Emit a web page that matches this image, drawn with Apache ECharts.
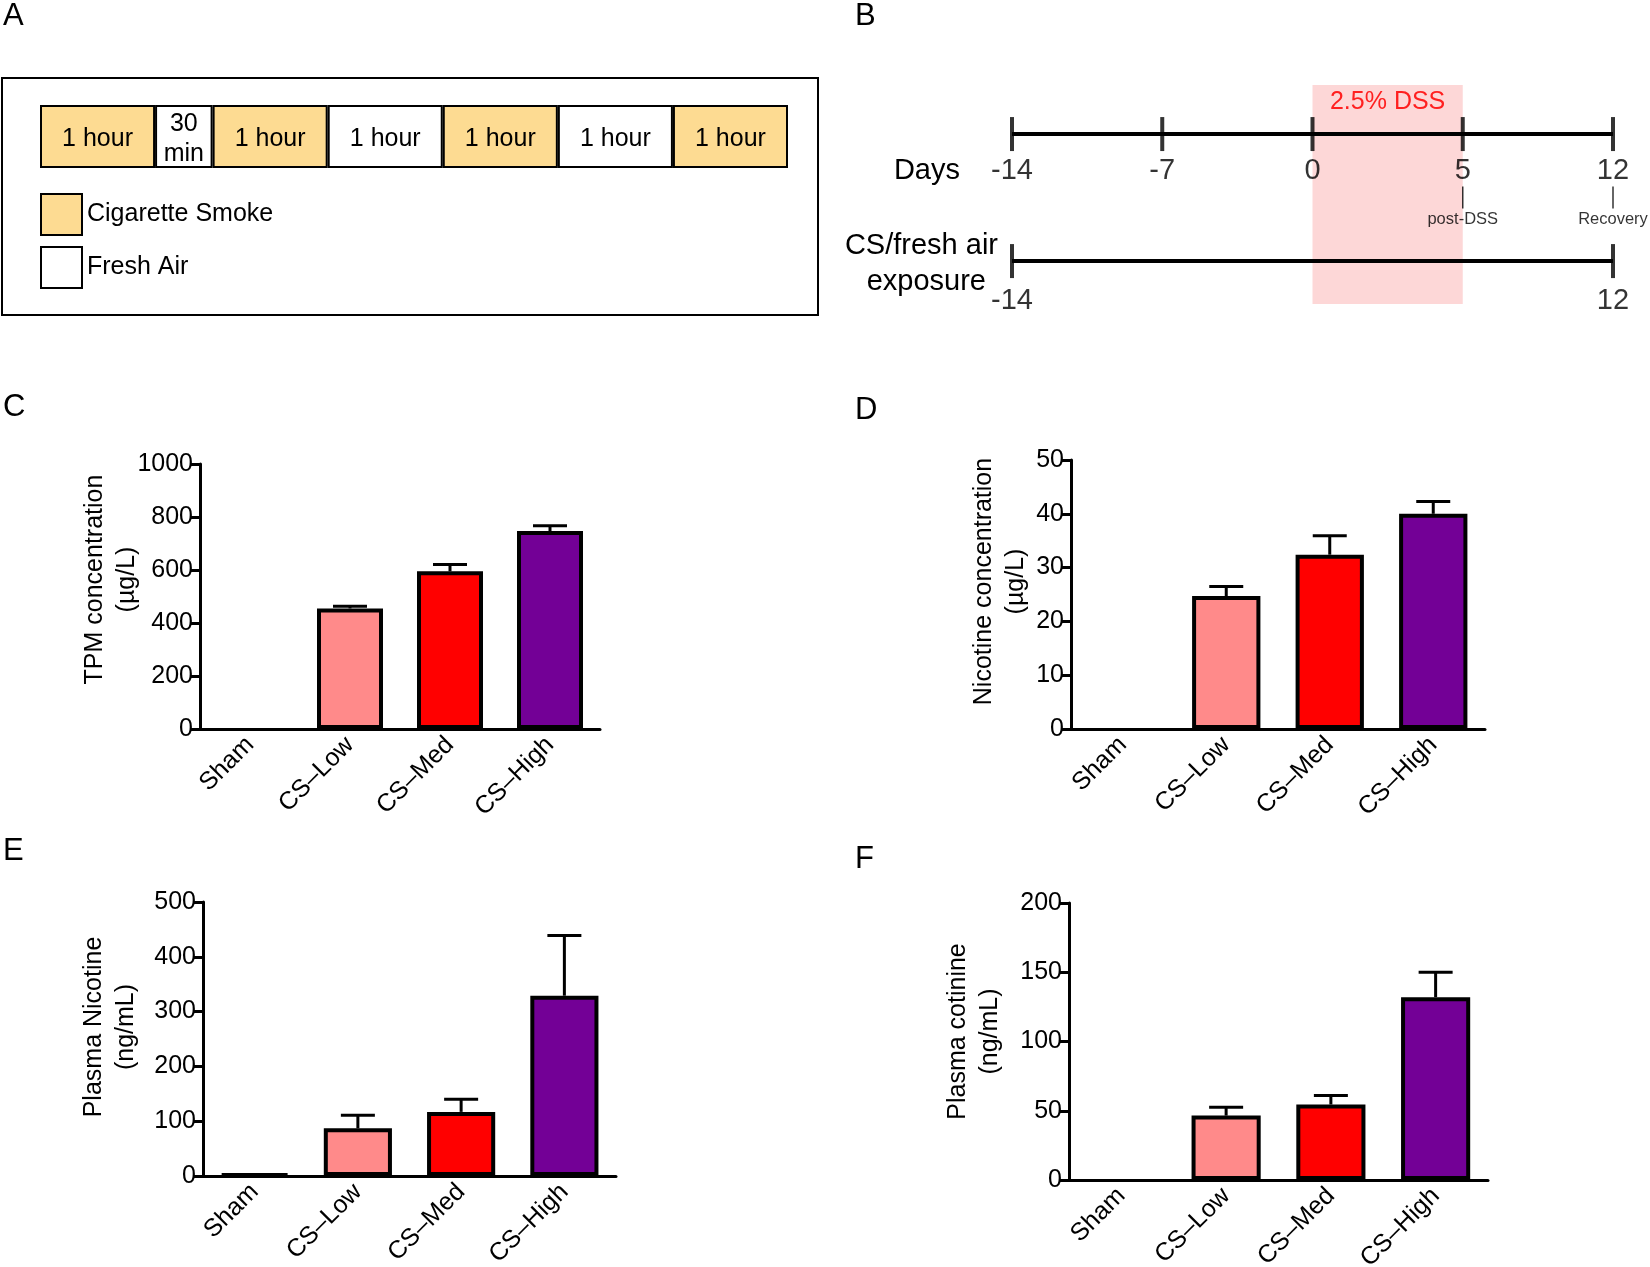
<!DOCTYPE html>
<html style="height: 100%">
<head>
  <meta charset="utf-8">
  <title>CS exposure protocol and dosimetry</title>
  <script src="https://cdn.jsdelivr.net/npm/echarts@6.0.0/dist/echarts.min.js"></script>
</head>
<body style="margin:0;height:100%;background:#fff">
  <div id="main" style="width:1650px;height:1267px"></div>
  <script>
    // panel A: exposure session
    var segmentMinutes = [60, 30, 60, 60, 60, 60, 60];
    var segmentType = ['smoke', 'air', 'smoke', 'air', 'smoke', 'air', 'smoke'];
    var segmentLabels = ['1 hour', '30\nmin', '1 hour', '1 hour', '1 hour', '1 hour', '1 hour'];

    // panel B: study timeline
    var days = ['-14', '-7', '0', '5', '12'];
    var exposureDays = ['-14', '12'];
    var milestones = [['5', 'post-DSS'], ['12', 'Recovery']];

    // panels C-F
    var groups = ['Sham', 'CS\u2013Low', 'CS\u2013Med', 'CS\u2013High'];
    var tpmMean = [0, 455, 595, 747];
    var tpmErr = [0, 8, 26, 20];
    var nicMean = [0, 24.7, 32.4, 40.0];
    var nicErr = [0, 1.8, 3.5, 2.3];
    var plasmaNicMean = [4, 87, 117, 329];
    var plasmaNicErr = [0, 24, 23, 110];
    var cotMean = [0, 46.5, 54.5, 132];
    var cotErr = [0, 6, 6.5, 18];

    var groupColors = ['#ffffff', '#ff8a8a', '#ff0000', '#730096'];
    var FONT = '"Liberation Sans", Arial, sans-serif';

    var chart = echarts.init(document.getElementById('main'));

    var grids = [];
    var xAxes = [];
    var yAxes = [];
    var series = [];

    function addGrid(box) {
      box.outerBoundsMode = 'none';
      box.containLabel = false;
      grids.push(box);
      return grids.length - 1;
    }

    // ---- A ----
    addGrid({ left: 40, top: 105, width: 748, height: 63 });
    xAxes.push({ gridIndex: 0, type: 'value', min: 0, max: 390, show: false });
    yAxes.push({ gridIndex: 0, type: 'category', data: ['session'], show: false });
    segmentMinutes.forEach(function (m, i) {
      var smoke = segmentType[i] === 'smoke';
      series.push({
        type: 'bar',
        name: smoke ? 'Cigarette Smoke' : 'Fresh Air',
        stack: 'session',
        xAxisIndex: 0, yAxisIndex: 0,
        barWidth: '100%',
        data: [m],
        itemStyle: { color: smoke ? '#fddb92' : '#ffffff', borderColor: '#000', borderWidth: 2 },
        label: {
          show: true, position: 'inside', formatter: segmentLabels[i], offset: [0, 3],
          color: '#000', fontSize: 25, lineHeight: 30, fontFamily: FONT
        }
      });
    });

    // ---- B ----
    var DAYS_ROW = 0.776, EXPO_ROW = 0.196, MILE_ROW = 0.486;
    addGrid({ left: 1012, top: 85, width: 601, height: 219 });
    xAxes.push({ gridIndex: 1, type: 'category', data: days, boundaryGap: false, show: false });
    yAxes.push({ gridIndex: 1, type: 'value', min: 0, max: 1, show: false });
    var last = days.length - 1;
    series.push({
      type: 'line', xAxisIndex: 1, yAxisIndex: 1, z: 2, symbol: 'none',
      data: [[0, DAYS_ROW], [last, DAYS_ROW]],
      lineStyle: { color: '#000', width: 4 }
    });
    series.push({
      type: 'scatter', xAxisIndex: 1, yAxisIndex: 1, z: 3, symbolSize: 0,
      data: [[days.indexOf('0'), 0.5]],
      markArea: {
        silent: true,
        itemStyle: { color: 'rgba(250,160,160,0.42)' },
        label: {
          show: true, position: 'insideTop', distance: 5, formatter: '2.5% DSS',
          color: '#ff2020', fontSize: 25, fontFamily: FONT
        },
        data: [[{ xAxis: days.indexOf('0'), yAxis: 0 }, { xAxis: days.indexOf('5'), yAxis: 1 }]]
      }
    });
    series.push({
      type: 'scatter', xAxisIndex: 1, yAxisIndex: 1, z: 4,
      symbol: 'rect', symbolSize: [4, 34], itemStyle: { color: '#000' },
      data: days.map(function (d, i) { return [i, DAYS_ROW]; }),
      label: {
        show: true, position: 'bottom', distance: 5, color: '#000', fontSize: 29, fontFamily: FONT,
        formatter: function (p) { return days[p.value[0]]; }
      }
    });
    series.push({
      type: 'line', xAxisIndex: 1, yAxisIndex: 1, z: 5, symbol: 'none',
      data: [[days.indexOf(exposureDays[0]), EXPO_ROW], [days.indexOf(exposureDays[1]), EXPO_ROW]],
      lineStyle: { color: '#000', width: 4 }
    });
    series.push({
      type: 'scatter', xAxisIndex: 1, yAxisIndex: 1, z: 5,
      symbol: 'rect', symbolSize: [4, 34], itemStyle: { color: '#000' },
      data: exposureDays.map(function (d) { return [days.indexOf(d), EXPO_ROW]; }),
      label: {
        show: true, position: 'bottom', distance: 8, color: '#000', fontSize: 29, fontFamily: FONT,
        formatter: function (p) { return days[p.value[0]]; }
      }
    });
    series.push({
      type: 'scatter', xAxisIndex: 1, yAxisIndex: 1, z: 5,
      symbol: 'rect', symbolSize: [1.5, 22], itemStyle: { color: '#000' },
      data: milestones.map(function (m) { return [days.indexOf(m[0]), MILE_ROW, m[1]]; }),
      label: {
        show: true, position: 'bottom', distance: 2, color: '#000', fontSize: 16.5, fontFamily: FONT,
        formatter: function (p) { return p.value[2]; }
      }
    });

    // ---- C-F ----
    function errItem(params, api) {
      var err = api.value(2);
      if (!err) return;
      var base = api.coord([api.value(0), api.value(1)]);
      var top = api.coord([api.value(0), api.value(1) + err]);
      var st = { stroke: '#000', lineWidth: 3 };
      return {
        type: 'group',
        children: [
          { type: 'line', shape: { x1: base[0], y1: base[1], x2: top[0], y2: top[1] }, style: st },
          { type: 'line', shape: { x1: top[0] - 17, y1: top[1], x2: top[0] + 17, y2: top[1] }, style: st }
        ]
      };
    }

    function addPanel(box, mean, err, max, interval, name, gap, shift) {
      var gi = addGrid(box);
      xAxes.push({
        gridIndex: gi, type: 'category', data: groups,
        axisLine: { lineStyle: { color: '#000', width: 3 } },
        axisTick: { alignWithLabel: true, length: 9, lineStyle: { color: '#000', width: 3 } },
        axisLabel: { rotate: 45, color: '#000', fontSize: 25, fontFamily: FONT, margin: 12 }
      });
      yAxes.push({
        gridIndex: gi, type: 'value', min: 0, max: max, interval: interval,
        name: name, nameLocation: 'middle', nameGap: gap, nameMoveOverlap: false,
        nameTextStyle: { color: '#000', fontSize: 25, lineHeight: 32, fontFamily: FONT, padding: [0, 0, 0, shift] },
        axisLine: { show: true, lineStyle: { color: '#000', width: 3 } },
        axisTick: { show: true, length: 9, lineStyle: { color: '#000', width: 3 } },
        axisLabel: { color: '#000', fontSize: 25, fontFamily: FONT, margin: 7,
          formatter: function (v) { return String(v); } },
        splitLine: { show: false }
      });
      series.push({
        type: 'bar', xAxisIndex: gi, yAxisIndex: gi, barWidth: '66%', z: 2,
        data: mean.map(function (v, i) {
          return { value: v, itemStyle: { color: groupColors[i], borderColor: '#000', borderWidth: v ? 4 : 0 } };
        })
      });
      series.push({
        type: 'custom', xAxisIndex: gi, yAxisIndex: gi, z: 3,
        renderItem: errItem, encode: { x: 0, y: 1 },
        data: mean.map(function (v, i) { return [i, v, err[i]]; })
      });
    }

    addPanel({ left: 200, top: 464, width: 400, height: 265 }, tpmMean, tpmErr, 1000, 200,
      'TPM concentration\n(\u00b5g/L)', 57, 34);
    addPanel({ left: 1071, top: 460, width: 414, height: 269 }, nicMean, nicErr, 50, 10,
      'Nicotine concentration\n(\u00b5g/L)', 39, 26);
    addPanel({ left: 203, top: 902, width: 413, height: 274 }, plasmaNicMean, plasmaNicErr, 500, 100,
      'Plasma Nicotine\n(ng/mL)', 61, 24);
    addPanel({ left: 1069, top: 903, width: 419, height: 277 }, cotMean, cotErr, 200, 50,
      'Plasma cotinine\n(ng/mL)', 63, 20);

    function txt(x, y, s, size, align) {
      return {
        type: 'text', x: x, y: y, silent: true,
        style: { text: s, fill: '#000', fontSize: size, fontFamily: FONT, align: align || 'left', verticalAlign: 'middle' }
      };
    }

    chart.setOption({
      backgroundColor: '#fff',
      animation: false,
      grid: grids,
      xAxis: xAxes,
      yAxis: yAxes,
      legend: {
        data: ['Cigarette Smoke', 'Fresh Air'],
        orient: 'vertical', left: 35, top: 188,
        itemWidth: 41, itemHeight: 41, itemGap: 10,
        icon: 'rect', selectedMode: false,
        itemStyle: { borderColor: '#000', borderWidth: 2 },
        textStyle: { color: '#000', fontSize: 25, fontFamily: FONT }
      },
      graphic: [
        { type: 'rect', silent: true, shape: { x: 2, y: 78, width: 816, height: 237 },
          style: { fill: 'none', stroke: '#000', lineWidth: 2 } },
        txt(3, 16, 'A', 31), txt(855, 16, 'B', 31),
        txt(3, 407, 'C', 31), txt(855, 410, 'D', 31),
        txt(3, 851, 'E', 31), txt(855, 859, 'F', 31),
        txt(960, 171, 'Days', 29, 'right'),
        txt(998, 246, 'CS/fresh air', 29, 'right'),
        txt(986, 282, 'exposure', 29, 'right')
      ],
      series: series
    });
  </script>
</body>
</html>
